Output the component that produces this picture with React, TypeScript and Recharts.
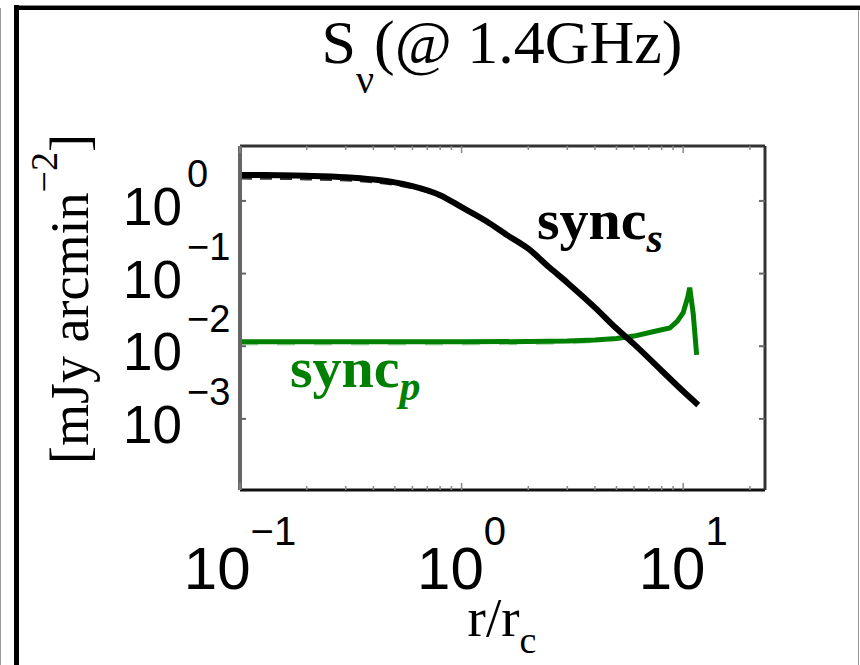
import { LineChart, Line, XAxis, YAxis } from "recharts";

// r / r_c sample points
const rSyncS = [0.1, 0.15, 0.2, 0.3, 0.4, 0.5, 0.6, 0.8, 1.0, 1.3, 1.6, 2.0, 2.5, 3.0, 4.0, 5.0, 6.0, 8.0, 10, 11.7];
const syncS = [2.28, 2.26, 2.22, 2.12, 1.97, 1.8, 1.6, 1.2, 0.82, 0.52, 0.34, 0.22, 0.12, 0.075, 0.034, 0.0175, 0.0107, 0.0046, 0.0024, 0.00155];
const syncSDashed = [2.06, 2.04, 2.01, 1.94, 1.83, 1.69, 1.52, 1.16, 0.8, 0.51, 0.34, 0.22, 0.12, 0.075, 0.034, 0.0175, 0.0107, 0.0046, 0.0024, 0.00155];

const rSyncP = [0.1, 0.3, 1, 2, 3, 4, 5, 6, 7.3, 8.7, 9.4, 10, 10.5, 10.7, 11.1, 11.5];
const syncP = [0.0115, 0.0115, 0.0115, 0.0116, 0.0118, 0.0122, 0.0128, 0.0138, 0.0158, 0.0178, 0.022, 0.029, 0.048, 0.064, 0.028, 0.0076];
const syncPDashed = [0.0106, 0.0106, 0.0106, 0.0107, 0.0109, 0.0114, 0.0122, 0.0135, 0.0156, 0.0176, 0.022, 0.029, 0.048, 0.064, 0.028, 0.0076];

const xMajor = [0.1, 1, 10];
const xMinor = [0.2, 0.3, 0.4, 0.5, 0.6, 0.7, 0.8, 0.9, 2, 3, 4, 5, 6, 7, 8, 9, 20];
const yMajor = [0.001, 0.01, 0.1, 1];

const xDomain = [0.1, 23.4];
const yDomain = [1.05e-4, 5.7];

const GREEN = "#008000";
const SANS = "'Liberation Sans', Arial, sans-serif";
const SERIF = "'Liberation Serif', 'Times New Roman', serif";

const toRows = (xs: number[], ys: number[]) => xs.map((r, i) => ({ r, v: ys[i] }));

const expOf = (v: number) => {
  const e = Math.round(Math.log10(v));
  return e < 0 ? `\u2212${-e}` : `${e}`;
};

function BottomTick({ x, y, payload }: any) {
  const major = xMajor.includes(payload.value);
  return (
    <g>
      <line x1={x} y1={y} x2={x} y2={y - (major ? 7 : 4)} stroke="#888" strokeWidth={1.5} />
      {major && (
        <text x={x} y={y + 99} textAnchor="middle" fontFamily={SANS} fontSize={60} fill="#000">
          <tspan>10</tspan>
          <tspan dy={-44} fontSize={40}>{expOf(payload.value)}</tspan>
        </text>
      )}
    </g>
  );
}

function TopTick({ x, y, payload }: any) {
  const major = xMajor.includes(payload.value);
  return <line x1={x} y1={y} x2={x} y2={y + (major ? 7 : 4)} stroke="#888" strokeWidth={1.5} />;
}

function LeftTick({ x, y, payload }: any) {
  return (
    <g>
      <line x1={x} y1={y} x2={x + 6} y2={y} stroke="#666" strokeWidth={2} />
      <text x={x - 117} y={y + 24} fontFamily={SANS} fontSize={53} fill="#000">
        <tspan>10</tspan>
        <tspan dx={5} dy={-38} fontSize={38}>{expOf(payload.value)}</tspan>
      </text>
    </g>
  );
}

function RightTick({ x, y }: any) {
  return <line x1={x} y1={y} x2={x - 6} y2={y} stroke="#666" strokeWidth={2} />;
}

export default function App() {
  return (
    <div style={{ position: "absolute", left: 0, top: 0, width: 860, height: 665, background: "#fff", overflow: "hidden" }}>
      {/* figure frame */}
      <div style={{ position: "absolute", left: 0, top: 8, width: 1, height: 657, background: "#999" }} />
      <div style={{ position: "absolute", left: 858, top: 10, width: 1, height: 655, background: "#999" }} />
      <div style={{ position: "absolute", left: 14, top: 5, width: 846, height: 1, background: "#888" }} />
      <div style={{ position: "absolute", left: 14, top: 6, width: 846, height: 4, background: "#000" }} />
      <div style={{ position: "absolute", left: 14, top: 5, width: 5, height: 660, background: "#000" }} />

      <div style={{ position: "absolute", left: 0, top: 0 }}>
        <LineChart width={860} height={665} margin={{ top: 145, right: 94, bottom: 0, left: 0 }}>
          <XAxis
            xAxisId="bottom"
            dataKey="r"
            type="number"
            scale="log"
            domain={xDomain}
            allowDataOverflow
            ticks={[...xMajor, ...xMinor]}
            interval={0}
            height={175}
            tickSize={0}
            tickMargin={0}
            tick={<BottomTick />}
            axisLine={{ stroke: "#111", strokeWidth: 3 }}
            tickLine={false}
          />
          <XAxis
            xAxisId="top"
            orientation="top"
            dataKey="r"
            type="number"
            scale="log"
            domain={xDomain}
            allowDataOverflow
            ticks={[...xMajor, ...xMinor]}
            interval={0}
            height={1}
            tickSize={0}
            tickMargin={0}
            tick={<TopTick />}
            axisLine={{ stroke: "#333", strokeWidth: 3 }}
            tickLine={false}
          />
          <YAxis
            yAxisId="left"
            type="number"
            scale="log"
            domain={yDomain}
            allowDataOverflow
            ticks={yMajor}
            interval={0}
            width={240}
            tickSize={0}
            tickMargin={0}
            tick={<LeftTick />}
            axisLine={{ stroke: "#666", strokeWidth: 4 }}
            tickLine={false}
          />
          <YAxis
            yAxisId="right"
            orientation="right"
            type="number"
            scale="log"
            domain={yDomain}
            allowDataOverflow
            ticks={yMajor}
            interval={0}
            width={1}
            tickSize={0}
            tickMargin={0}
            tick={<RightTick />}
            axisLine={{ stroke: "#333", strokeWidth: 3 }}
            tickLine={false}
          />

          {/* invisible copy so the top and right box axes are drawn */}
          <Line
            xAxisId="top"
            yAxisId="right"
            data={toRows(rSyncS, syncS)}
            dataKey="v"
            stroke="none"
            dot={false}
            activeDot={false}
            isAnimationActive={false}
          />

          <Line
            xAxisId="bottom"
            yAxisId="left"
            data={toRows(rSyncP, syncPDashed)}
            dataKey="v"
            type="linear"
            stroke={GREEN}
            strokeOpacity={0.3}
            strokeWidth={2}
            strokeDasharray="18 19"
            dot={false}
            isAnimationActive={false}
          />
          <Line
            xAxisId="bottom"
            yAxisId="left"
            data={toRows(rSyncP, syncP)}
            dataKey="v"
            type="linear"
            stroke={GREEN}
            strokeWidth={5}
            dot={false}
            isAnimationActive={false}
          />
          <Line
            xAxisId="bottom"
            yAxisId="left"
            data={toRows(rSyncS, syncSDashed)}
            dataKey="v"
            type="monotone"
            stroke="#333"
            strokeWidth={3}
            strokeDasharray="12 8"
            dot={false}
            isAnimationActive={false}
          />
          <Line
            xAxisId="bottom"
            yAxisId="left"
            data={toRows(rSyncS, syncS)}
            dataKey="v"
            type="monotone"
            stroke="#000"
            strokeWidth={6}
            dot={false}
            isAnimationActive={false}
          />
        </LineChart>
      </div>

      {/* titles, axis labels and curve labels */}
      <svg width={860} height={665} style={{ position: "absolute", left: 0, top: 0, pointerEvents: "none" }}>
        <text x={502} y={63} textAnchor="middle" fontFamily={SERIF} fontSize={62} fill="#000">
          <tspan>S</tspan>
          <tspan dy={30} fontSize={40}>ν</tspan>
          <tspan dy={-30}>(@ 1.4GHz)</tspan>
        </text>
        <text x={502} y={636} textAnchor="middle" fontFamily={SERIF} fontSize={55} fill="#000">
          <tspan>r/r</tspan>
          <tspan dy={17} fontSize={38}>c</tspan>
        </text>
        <text x={88} y={299} textAnchor="middle" transform="rotate(-90 88 299)" fontFamily={SERIF} fontSize={54} fill="#000">
          <tspan>[mJy arcmin</tspan>
          <tspan dy={-31} fontSize={38}>{"\u22122"}</tspan>
          <tspan dy={31}>]</tspan>
        </text>
        <text x={537} y={239} fontFamily={SERIF} fontWeight="bold" fontSize={58} fill="#000">
          <tspan>sync</tspan>
          <tspan dy={13} fontSize={42} fontStyle="italic">s</tspan>
        </text>
        <text x={290} y={387} fontFamily={SERIF} fontWeight="bold" fontSize={58} fill={GREEN}>
          <tspan>sync</tspan>
          <tspan dy={13} fontSize={42} fontStyle="italic">p</tspan>
        </text>
      </svg>
    </div>
  );
}
